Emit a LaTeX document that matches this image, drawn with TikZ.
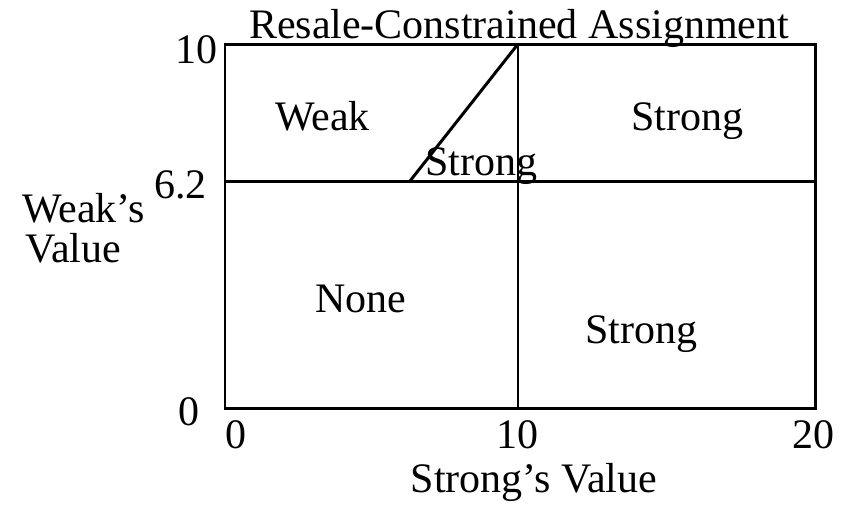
\documentclass[tikz,border=0pt]{standalone}
\usepackage{fontspec}
\setmainfont{Liberation Serif}
\usetikzlibrary{positioning}

\tikzset{
  lbl/.style={font=\fontsize{23.9}{28}\selectfont, inner sep=0pt, anchor=base},
  frame/.style={line width=1.7pt},
}

\begin{document}
\begin{tikzpicture}[x=0.02cm, y=-0.02cm]
  \useasboundingbox (0,0) rectangle (852,505);

  %% Corners of the region box
  \coordinate (sw) at (225,408);
  \coordinate (ne) at (815,44);
  \coordinate (midtop) at (518,44);
  \coordinate (midbot) at (518,408);
  \coordinate (cutl) at (225,181);
  \coordinate (cutr) at (815,181);
  \coordinate (kink) at (410,181);

  %% Box and dividing lines
  \draw[frame] (sw) rectangle (ne);
  \draw[frame] (midtop) -- (midbot);
  \draw[frame] (cutl) -- (cutr);
  \draw[frame] (kink) -- (midtop);

  %% Title
  \node[lbl] (title) at (519,38) {Resale-Constrained Assignment};

  %% Region labels
  \node[lbl] (weak)     at (322.5,130) {Weak};
  \node[lbl] (strongA)  at (687,130)   {Strong};
  \node[lbl] (strongB)  at (481.5,175) {Strong};
  \node[lbl] (none)     at (360.5,312) {None};
  \node[lbl] (strongC)  at (641.5,343) {Strong};

  %% Vertical axis
  \node[lbl, anchor=base east] (ytop) at (218,63)  {10};
  \node[lbl, anchor=base east] (ymid) at (207,198) {6.2};
  \node[lbl, anchor=base east] (ylow) at (200,425) {0};
  \node[lbl, anchor=base west] (ynameA) at (22,222) {Weak’s};
  \node[lbl, anchor=base west] (ynameB) at (25,262) {Value};

  %% Horizontal axis
  \node[lbl] (xlow)  at (235.5,448) {0};
  \node[lbl] (xmid)  at (517.5,448) {10};
  \node[lbl] (xtop)  at (813,448)   {20};
  \node[lbl] (xname) at (534,492)   {Strong’s Value};
\end{tikzpicture}
\end{document}
